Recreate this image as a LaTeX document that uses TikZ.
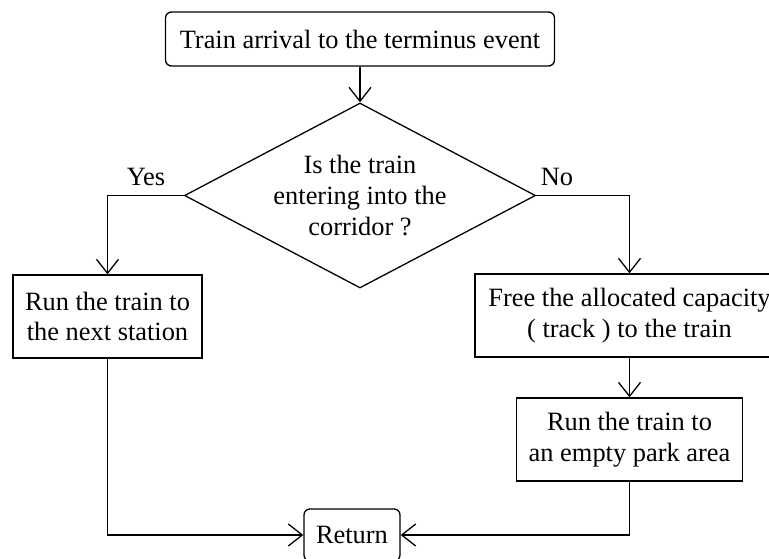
\documentclass[tikz,border=0pt]{standalone}
\usepackage{fontspec}
\setmainfont{Liberation Serif}
\usetikzlibrary{shapes.geometric,arrows.meta}
\begin{document}
\begin{tikzpicture}[x=1pt,y=-1pt,
  font=\fontsize{26.4}{30.6}\selectfont,
  line width=1.3pt,
  box/.style={draw, inner sep=0pt, align=center},
  rbox/.style={box, rounded corners=6pt},
  decision/.style={draw, shape=diamond, aspect=1.9, inner sep=0pt, align=center},
  arr/.style={-{Straight Barb[length=14pt,width=22pt,line width=1.3pt]}},
  lbl/.style={inner sep=0pt},
]
\useasboundingbox (0,0) rectangle (769,559);
\clip (0,0) rectangle (769,559);

% process boxes
\node[rbox, minimum width=389pt, minimum height=54pt] (start) at (360,39)
  {Train arrival to the terminus event};
\node[decision, minimum width=351pt, minimum height=185pt] (q) at (360,195.5)
  {Is the train\\entering into the\\corridor ?};
\node[box, minimum width=189pt, minimum height=83pt] (run) at (107.5,316.5)
  {Run the train to\\the next station};
\node[box, minimum width=309pt, minimum height=83pt] (free) at (629.5,315.5)
  {Free the allocated capacity\\( track ) to the train};
\node[box, minimum width=226pt, minimum height=83pt] (park) at (629.5,439.5)
  {Run the train to\\an empty park area};
\node[rbox, minimum width=96pt, minimum height=52pt] (ret) at (352,535)
  {Return};

% branch labels
\node[lbl] (yes) at (146,177) {Yes};
\node[lbl] (no) at (557,177) {No};

% connectors
\draw[arr] (start.south) -- (q.north);
\draw[arr] (q.west) -| (run.north);
\draw[arr] (q.east) -| (free.north);
\draw[arr] (free.south) -- (park.north);
\draw[arr] (run.south) |- (ret.west);
\draw[arr] (park.south) |- (ret.east);
\end{tikzpicture}
\end{document}
